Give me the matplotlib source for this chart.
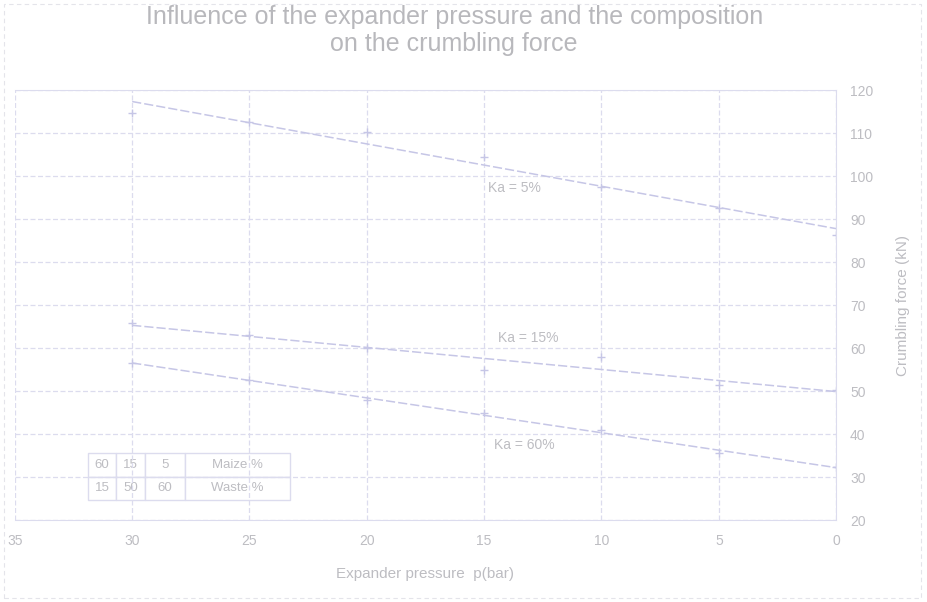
import matplotlib
matplotlib.use("Agg")
import matplotlib.pyplot as plt
import numpy as np

# pressure steps (bar) and crumbling force (kN) per composition
pressure = [30, 25, 20, 15, 10, 5, 0]
force_ka5 = [114.7, 112.6, 110.2, 104.4, 97.4, 92.6, 86.3]
force_ka15 = [65.8, 63.0, 60.0, 54.9, 57.9, 51.5, 50.2]
force_ka60 = [56.5, 52.6, 47.9, 44.9, 40.9, 35.6, 32.3]
series_labels = ["Ka = 5%", "Ka = 15%", "Ka = 60%"]

table_rows = ["Maize %", "Waste %"]
table_vals = [[60, 15, 5], [15, 50, 60]]

x_ticks = [0, 5, 10, 15, 20, 25, 30, 35]
y_ticks = [20, 30, 40, 50, 60, 70, 80, 90, 100, 110, 120]

TXT = "#bdbdc2"
GRID = "#dcdcee"
LINE = "#c6c6e6"

plt.rcParams["font.family"] = ["Liberation Sans", "DejaVu Sans"]
fig = plt.figure(figsize=(9.27, 6.02), dpi=100)
ax = fig.add_axes([0.016, 0.136, 0.886, 0.714])

for ys, lab, lpos in zip([force_ka5, force_ka15, force_ka60], series_labels,
                         [(13.7, 97.2), (13.1, 62.3), (13.3, 37.4)]):
    k, b = np.polyfit(pressure, ys, 1)
    xs = np.array([30, 0])
    ax.plot(xs, k * xs + b, color=LINE, lw=1.1, ls=(0, (6, 2)))
    ax.plot(pressure, ys, ls="none", marker="+", ms=6, mew=1.0, color=LINE)
    ax.text(lpos[0], lpos[1], lab, color=TXT, fontsize=10,
            ha="center", va="center")

ax.set_xlim(35, 0)
ax.set_ylim(20, 120)
ax.set_xticks(x_ticks)
ax.set_yticks(y_ticks)
ax.yaxis.tick_right()
ax.yaxis.set_label_position("right")
ax.grid(True, color=GRID, lw=0.9, ls=(0, (4, 2)))
ax.tick_params(colors=TXT, labelsize=10, length=0, pad=10)
for s in ax.spines.values():
    s.set_color(GRID)
ax.spines["left"].set_visible(False)
ax.set_xlabel("Expander pressure  p(bar)", color=TXT, fontsize=11, labelpad=14)
ax.set_ylabel("Crumbling force (kN)", color=TXT, fontsize=11, labelpad=16)

cells = [[str(v) for v in r] + [n] for r, n in zip(table_vals, table_rows)]
tab = ax.table(cellText=cells, bbox=[0.089, 0.047, 0.246, 0.109],
               cellLoc="center", colWidths=[0.14, 0.14, 0.2, 0.52])
tab.auto_set_font_size(False)
tab.set_fontsize(9.5)
for c in tab.get_celld().values():
    c.set_edgecolor(GRID)
    c.get_text().set_color(TXT)
    c.set_facecolor("white")

fig.text(0.49, 0.949, "Influence of the expander pressure and the composition\non the crumbling force",
         ha="center", va="center", color="#b8b8bc", fontsize=18, linespacing=1.15)

fig.patches.append(plt.Rectangle((0.004, 0.006), 0.99, 0.988, transform=fig.transFigure,
                                 fill=False, ec="#e4e4ea", lw=0.8, ls=(0, (4, 3))))
fig.savefig("out.png", dpi=100, facecolor="white")
